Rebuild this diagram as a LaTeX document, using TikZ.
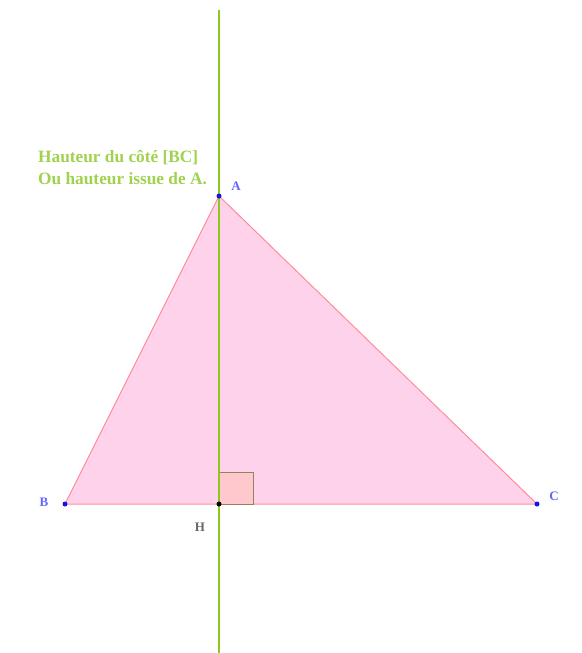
\documentclass[tikz,border=0pt]{standalone}
\usepackage{fontspec}
\setmainfont{Liberation Serif}
\definecolor{altgreen}{RGB}{140,200,30}
\definecolor{txtgreen}{RGB}{160,210,80}
\definecolor{trifill}{RGB}{255,210,235}
\definecolor{triedge}{RGB}{255,140,150}
\definecolor{sqfill}{RGB}{255,200,205}
\definecolor{sqedge}{RGB}{150,130,90}
\definecolor{ptblue}{RGB}{20,20,230}
\definecolor{lblblue}{RGB}{100,100,255}
\begin{document}
\begin{tikzpicture}[x=1pt,y=-1pt,
  pt/.style={circle,fill=ptblue,inner sep=0pt,minimum size=5pt},
  lbl/.style={text=lblblue,font=\bfseries\fontsize{13}{15}\selectfont,inner sep=0pt},
  gtxt/.style={text=txtgreen,font=\bfseries\fontsize{17.3}{20}\selectfont,inner sep=0pt,anchor=base west}]
\useasboundingbox (0,0) rectangle (581,653);
\coordinate (Atop) at (219,10);
\coordinate (Abot) at (219,653);
\coordinate (A) at (219,196);
\coordinate (B) at (65,504);
\coordinate (C) at (537,504);
\coordinate (H) at (219,504);
\fill[trifill] (A) -- (B) -- (C) -- cycle;
\draw[triedge,line width=1pt] (A) -- (B) -- (C) -- cycle;
\draw[sqedge,fill=sqfill,line width=1pt] (219,472) rectangle (253,504);
\draw[altgreen,line width=2pt] (Atop) -- (Abot);
\node[pt] (pA) at (A) {};
\node[pt] (pB) at (B) {};
\node[pt] (pC) at (C) {};
\node[circle,fill=black,inner sep=0pt,minimum size=5pt] (pH) at (H) {};
\node[lbl] (lA) at (236,186) {A};
\node[lbl] (lB) at (44,502) {B};
\node[lbl] (lC) at (554,496) {C};
\node[lbl,text=black!60] (lH) at (200,527) {H};
\node[gtxt] (t1) at (38,162) {Hauteur du côté [BC]};
\node[gtxt] (t2) at (38,184) {Ou hauteur issue de A.};
\end{tikzpicture}
\end{document}
